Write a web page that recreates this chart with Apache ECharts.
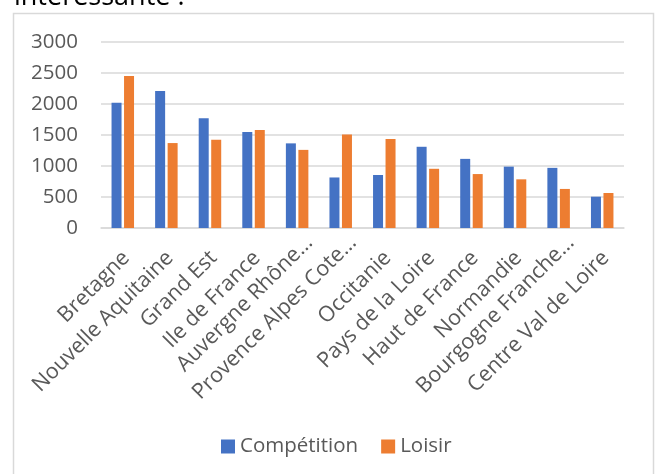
<!DOCTYPE html>
<html>
<head>
<meta charset="utf-8">
<script src="https://cdn.jsdelivr.net/npm/echarts@6/dist/echarts.min.js"></script>
<style>
html,body{margin:0;padding:0;background:#fff;}
#c{width:658px;height:474px;}
</style>
</head>
<body>
<div id="c"></div>
<script>
const categories = ['Bretagne','Nouvelle Aquitaine','Grand Est','Ile de France','Auvergne Rhône…','Provence Alpes Cote…','Occitanie','Pays de la Loire','Haut de France','Normandie','Bourgogne Franche…','Centre Val de Loire'];
const competition = [2020,2210,1770,1550,1365,815,855,1310,1115,990,970,505];
const loisir = [2450,1370,1425,1580,1260,1510,1435,955,870,785,630,565];
const yTicks = {min:0, max:3000, interval:500};
const font = '"Open Sans", sans-serif';

const isTrunc = s => s.endsWith('…');
const labelBase = {rotate:45, interval:0, color:'#595959', fontFamily:font, fontSize:21.5,
  align:'right', verticalAlign:'top', lineHeight:10};

const chart = echarts.init(document.getElementById('c'), null, {renderer:'canvas'});
chart.setOption({
  animation:false,
  backgroundColor:'#fff',
  graphic:[
    {type:'rect', shape:{x:13.5,y:13.5,width:640,height:480}, style:{fill:'none', stroke:'#d9d9d9', lineWidth:1.5}, silent:true},
    {type:'text', x:14, y:-3, style:{text:'intéressante :', font:'27px '+font, fill:'#000', verticalAlign:'middle'}, silent:true}
  ],
  grid:[
    {left:101, right:34, top:42, bottom:246, containLabel:false},
    {left:109.7, right:25.3, top:42, bottom:246, containLabel:false}
  ],
  legend:{
    data:['Compétition','Loisir'],
    left:216, top:431,
    itemWidth:14, itemHeight:14, itemGap:23,
    icon:'rect',
    textStyle:{fontFamily:font, fontSize:20.5, color:'#595959'}
  },
  xAxis:[{
    type:'category', data:categories, gridIndex:0,
    axisLine:{lineStyle:{color:'#d9d9d9', width:1.5}},
    axisTick:{show:false},
    axisLabel:Object.assign({}, labelBase, {margin:23, formatter:v => isTrunc(v) ? '' : v})
  },{
    type:'category', data:categories, gridIndex:1,
    axisLine:{show:false}, axisTick:{show:false}, splitLine:{show:false},
    axisLabel:Object.assign({}, labelBase, {margin:7.7, formatter:v => isTrunc(v) ? v : ''})
  }],
  yAxis:[{
    type:'value', min:yTicks.min, max:yTicks.max, interval:yTicks.interval, gridIndex:0,
    axisLine:{show:false}, axisTick:{show:false},
    splitLine:{lineStyle:{color:'#d9d9d9', width:1.5}},
    axisLabel:{margin:23, color:'#595959', fontFamily:font, fontSize:20.5, formatter:function(v){return String(v);}}
  },{
    type:'value', min:yTicks.min, max:yTicks.max, interval:yTicks.interval, gridIndex:1, show:false
  }],
  series:[
    {name:'Compétition', type:'bar', data:competition, barWidth:10, barGap:'25%', itemStyle:{color:'#4472C4'}},
    {name:'Loisir', type:'bar', data:loisir, barWidth:10, itemStyle:{color:'#ED7D31'}}
  ]
});
</script>
</body>
</html>
